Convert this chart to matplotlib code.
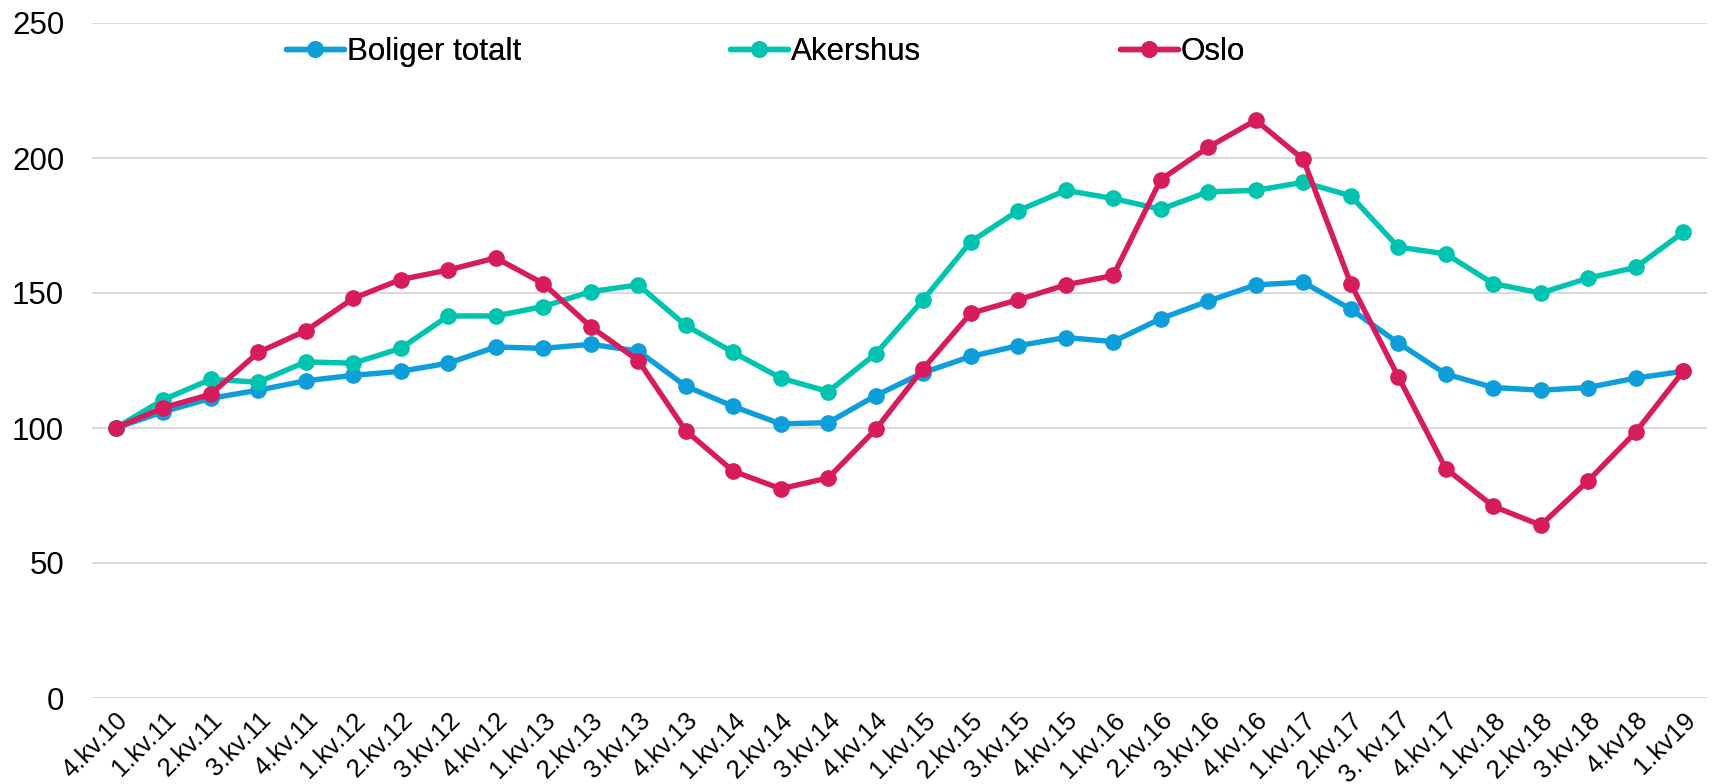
import matplotlib
matplotlib.use("Agg")
import matplotlib.pyplot as plt

quarters = ["4.kv.10",
            "1.kv.11", "2.kv.11", "3.kv.11", "4.kv.11",
            "1.kv.12", "2.kv.12", "3.kv.12", "4.kv.12",
            "1.kv.13", "2.kv.13", "3.kv.13", "4.kv.13",
            "1.kv.14", "2.kv.14", "3.kv.14", "4.kv.14",
            "1.kv.15", "2.kv.15", "3.kv.15", "4.kv.15",
            "1.kv.16", "2.kv.16", "3.kv.16", "4.kv.16",
            "1.kv.17", "2.kv.17", "3. kv.17", "4.kv.17",
            "1.kv.18", "2.kv.18", "3.kv.18", "4.kv18",
            "1.kv19"]

boliger_totalt = [100, 106, 111, 114, 117.5, 119.5, 121, 124, 130, 129.5,
                  131, 128.5, 115.5, 108, 101.5, 102, 112, 120.5, 126.5, 130.5,
                  133.5, 132, 140.5, 147, 153, 154, 144, 131.5, 120, 115,
                  114, 115, 118.5, 121]
akershus = [100, 110.5, 118, 117, 124.5, 124, 129.5, 141.5, 141.5, 145,
            150.5, 153, 138, 128, 118.5, 113.5, 127.5, 147.5, 169, 180.5,
            188, 185, 181, 187.5, 188, 191, 186, 167, 164.5, 153.5,
            150, 155.5, 159.5, 172.5]
oslo = [100, 107.5, 112.5, 128, 136, 148, 155, 158.5, 163, 153.5,
        137.5, 125, 99, 84, 77.5, 81.5, 99.5, 122, 142.5, 147.5,
        153, 156.5, 192, 204, 214, 199.5, 153.5, 119, 85, 71,
        64, 80.5, 98.5, 121]

series = [("Boliger totalt", boliger_totalt, "#0E9FDB"),
          ("Akershus", akershus, "#00C4B0"),
          ("Oslo", oslo, "#D61C5C")]

plt.rcParams['font.family'] = ['Liberation Sans', 'DejaVu Sans']

W, H = 1713, 784
fig = plt.figure(figsize=(W / 100, H / 100), dpi=100)
ax = fig.add_axes([92 / W, 1 - 698 / H, (1707 - 92) / W, (698 - 23) / H])

x = list(range(len(quarters)))
handles = []
for name, vals, col in series:
    h, = ax.plot(x, vals, color=col, lw=3.9, marker='o', markersize=11,
                 label=name, solid_capstyle='round', zorder=3)
    handles.append(h)

ax.set_xlim(-0.5, len(quarters) - 0.5)
ax.set_ylim(0, 250)
ax.set_yticks([0, 50, 100, 150, 200, 250])
ax.yaxis.grid(True, color='#D9D9D9', lw=1.4)
ax.set_axisbelow(True)
for s in ax.spines.values():
    s.set_visible(False)
ax.tick_params(axis='y', length=0, labelsize=22.5, pad=20)
ax.tick_params(axis='x', length=0, labelsize=18.5, pad=7)
ax.set_xticks(x)
ax.set_xticklabels(quarters, rotation=45, ha='right', va='top',
                   rotation_mode='anchor')

# legend entries placed individually (as in the reference)
legend_x = [286, 730, 1120]
for h, lx in zip(handles, legend_x):
    lg = fig.legend(handles=[h], loc='center left',
                    bbox_to_anchor=(lx / W, 1 - 52 / H),
                    bbox_transform=fig.transFigure, frameon=False,
                    fontsize=22.5, handlelength=1.85, handletextpad=0.1,
                    borderpad=0, borderaxespad=0)
    fig.add_artist(lg)

fig.savefig("out.png", dpi=100)
